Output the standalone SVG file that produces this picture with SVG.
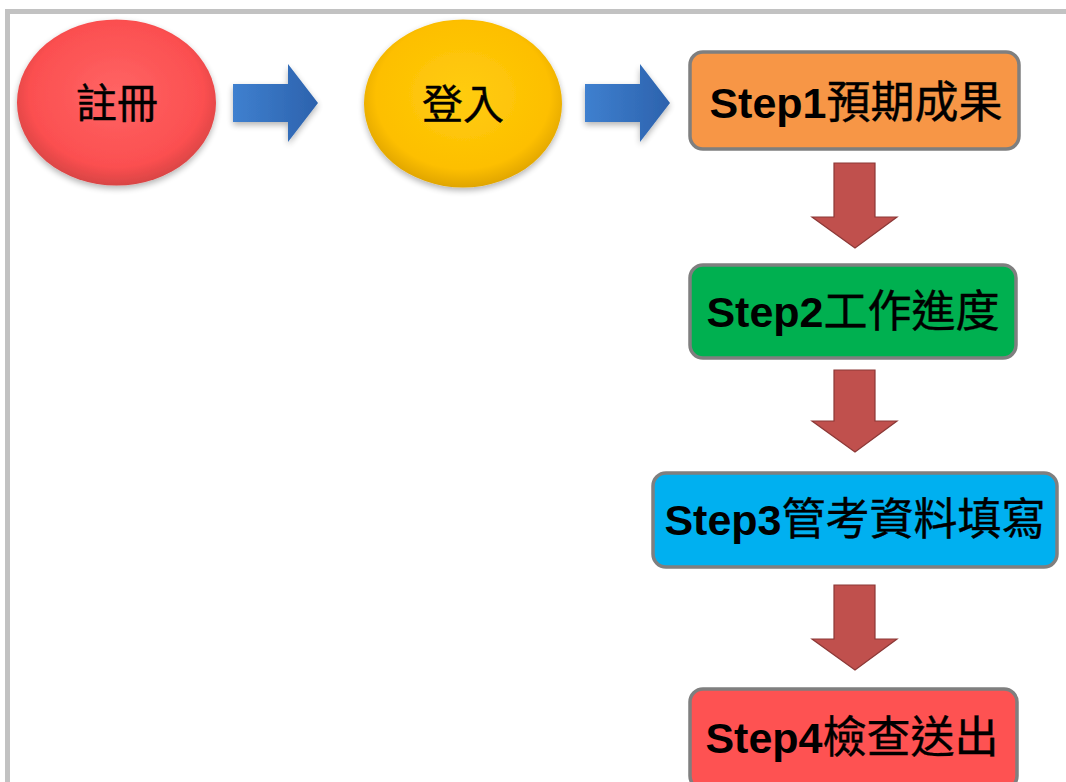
<svg xmlns="http://www.w3.org/2000/svg" width="1066" height="782" viewBox="0 0 1066 782">
<style>
.lbl{font-family:"Liberation Sans","Noto Sans CJK TC",sans-serif;font-size:43px;font-weight:bold;fill:#000;text-anchor:middle}
.cjk{font-family:"Noto Sans CJK TC","Liberation Sans",sans-serif;font-weight:normal;font-size:44px;stroke:#000;stroke-width:0.4}
.oval{font-family:"Noto Sans CJK TC",sans-serif;font-size:41px;font-weight:normal;fill:#000;stroke:#000;stroke-width:0.4;text-anchor:middle}
.box{stroke:#7f7f7f;stroke-width:3.5}
.down{fill:#c0504d;stroke:#8c3836;stroke-width:1.2}
.right{fill:url(#blueG)}
</style>
<defs>
<radialGradient id="redG" cx="0.5" cy="0.45" r="0.55">
<stop offset="0" stop-color="#ff6464"/>
<stop offset="0.8" stop-color="#fb4f50"/>
<stop offset="1" stop-color="#d84444"/>
</radialGradient>
<radialGradient id="yelG" cx="0.5" cy="0.45" r="0.55">
<stop offset="0" stop-color="#ffcc10"/>
<stop offset="0.8" stop-color="#fdbf00"/>
<stop offset="1" stop-color="#e0a500"/>
</radialGradient>
<linearGradient id="blueG" x1="0" y1="0" x2="1" y2="0">
<stop offset="0" stop-color="#3f80cf"/>
<stop offset="1" stop-color="#2c62ad"/>
</linearGradient>
<filter id="sh" x="-20%" y="-20%" width="140%" height="150%">
<feGaussianBlur in="SourceAlpha" stdDeviation="3"/>
<feOffset dx="0" dy="3" result="b"/>
<feComponentTransfer><feFuncA type="linear" slope="0.3"/></feComponentTransfer>
<feMerge><feMergeNode/><feMergeNode in="SourceGraphic"/></feMerge>
</filter>
</defs>
<rect x="0" y="0" width="1066" height="782" fill="#ffffff"/>
<rect x="7.5" y="11.5" width="1080" height="800" fill="none" stroke="#c2c2c2" stroke-width="5"/>

<g id="connectors">
<path class="right" filter="url(#sh)" d="M233,84 H288 V64 L318,103 L288,142 V122 H233 Z"/>
<path class="right" filter="url(#sh)" d="M585,84 H640 V64 L670,103 L640,142 V122 H585 Z"/>
<path class="down" d="M834,163 H875 V217 H897 L855,248 L812,217 H834 Z"/>
<path class="down" d="M834,370 H875 V421 H897 L855,452 L812,421 H834 Z"/>
<path class="down" d="M834,585 H875 V639 H897 L855,670 L812,639 H834 Z"/>
</g>

<g id="register">
<ellipse cx="116.5" cy="102.5" rx="99.5" ry="83" fill="url(#redG)" filter="url(#sh)"/>
<text class="oval" x="117" y="118">註冊</text>
</g>

<g id="login">
<ellipse cx="463" cy="103.5" rx="99" ry="84" fill="url(#yelG)" filter="url(#sh)"/>
<text class="oval" x="463" y="119">登入</text>
</g>

<g id="step1">
<rect class="box" x="690" y="52" width="329" height="97" rx="13" fill="#f79646"/>
<text class="lbl" x="856" y="118">Step1<tspan class="cjk">預期成果</tspan></text>
</g>

<g id="step2">
<rect class="box" x="690" y="265" width="326" height="93" rx="13" fill="#00b050"/>
<text class="lbl" x="853" y="327">Step2<tspan class="cjk">工作進度</tspan></text>
</g>

<g id="step3">
<rect class="box" x="653" y="473" width="404" height="94" rx="13" fill="#00b0f0"/>
<text class="lbl" x="855" y="535">Step3<tspan class="cjk">管考資料填寫</tspan></text>
</g>

<g id="step4">
<rect class="box" x="690" y="689" width="327" height="100" rx="13" fill="#fe5252"/>
<text class="lbl" x="852" y="753">Step4<tspan class="cjk">檢查送出</tspan></text>
</g>
</svg>
